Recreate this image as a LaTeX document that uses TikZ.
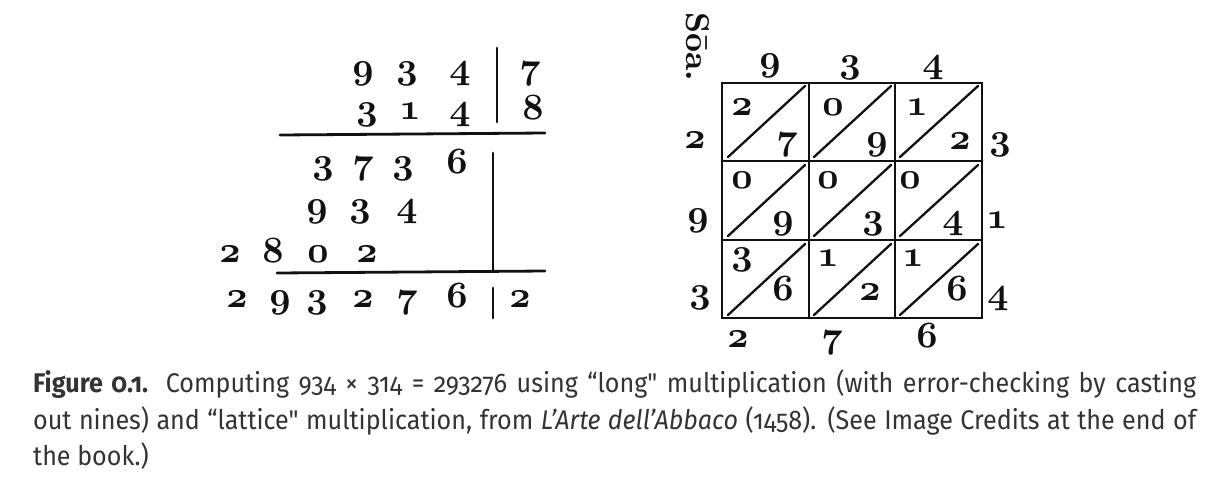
\documentclass[tikz,border=0pt]{standalone}
\usepackage{fontspec}
\usepackage{xcolor}
\usepackage{tikz}
\newfontfamily\altyaziFont[Numbers=OldStyle,FakeStretch=0.93]{Fira Sans}
\definecolor{murekkep}{HTML}{111111}
\definecolor{yaziGri}{HTML}{333333}
\newcommand{\elyazi}{\fontsize{10}{10}\usefont{OML}{cmm}{b}{it}}

\begin{document}
\begin{tikzpicture}[x=1pt,y=-1pt,
  rakam/.style={murekkep,inner sep=0pt,anchor=base,font=\elyazi,scale=3.7},
  kalem/.style={murekkep,line width=2.8pt,line cap=round},
  altyazi/.style={yaziGri,inner sep=0pt,anchor=base west,font=\altyaziFont\fontsize{27}{30}\selectfont}]
\fill[white] (0,0) rectangle (1214,493);
\useasboundingbox (0,0) rectangle (1214,493);
% uzun carpma
\node[rakam] (u1a) at (363,78) {9};
\node[rakam] (u1b) at (407,78) {3};
\node[rakam] (u1c) at (460,78) {4};
\node[rakam] (u1d) at (530,78) {7};
\node[rakam] (u2a) at (367,119) {3};
\node[rakam] (u2b) at (410,119) {1};
\node[rakam] (u2c) at (460,119) {4};
\node[rakam] (u2d) at (533,119) {8};
\draw[kalem] (497,48)--(497,122);
\draw[kalem] (280,135)--(545,133);
\node[rakam] (u3a) at (323,173) {3};
\node[rakam] (u3b) at (363,173) {7};
\node[rakam] (u3c) at (403,173) {3};
\node[rakam] (u3d) at (457,173) {6};
\draw[kalem] (493,153)--(493,272);
\node[rakam] (u4a) at (317,216) {9};
\node[rakam] (u4b) at (360,216) {3};
\node[rakam] (u4c) at (407,216) {4};
\node[rakam] (u5a) at (230,262) {2};
\node[rakam] (u5b) at (273,262) {8};
\node[rakam] (u5c) at (318,262) {0};
\node[rakam] (u5d) at (367,262) {2};
\draw[kalem] (277,273)--(545,271);
\node[rakam] (u6a) at (237,307) {2};
\node[rakam] (u6b) at (280,307) {9};
\node[rakam] (u6c) at (317,307) {3};
\node[rakam] (u6d) at (363,307) {2};
\node[rakam] (u6e) at (407,307) {7};
\node[rakam] (u6f) at (457,307) {6};
\draw[kalem] (493,288)--(493,318);
\node[rakam] (u6g) at (520,307) {2};
% kafes carpma
\node[murekkep,rotate=-90,font=\bfseries,scale=3.3,inner sep=0pt] (baslik) at (698,47) {Sōa.};
\node[rakam] (k9) at (770,70) {9};
\node[rakam] (k3) at (850,72) {3};
\node[rakam] (k4) at (933,72) {4};
\draw[kalem] (722,83) rectangle (982,318);
\draw[kalem] (809,83)--(809,318);
\draw[kalem] (895,83)--(895,318);
\draw[kalem] (722,161)--(982,161);
\draw[kalem] (722,240)--(982,240);
\draw[kalem,line width=2.3pt] (728,157)--(805,86);
\draw[kalem,line width=2.3pt] (814,157)--(891,86);
\draw[kalem,line width=2.3pt] (900,157)--(978,86);
\draw[kalem,line width=2.3pt] (728,236)--(805,165);
\draw[kalem,line width=2.3pt] (814,236)--(891,165);
\draw[kalem,line width=2.3pt] (900,236)--(978,165);
\draw[kalem,line width=2.3pt] (728,315)--(805,244);
\draw[kalem,line width=2.3pt] (814,315)--(891,244);
\draw[kalem,line width=2.3pt] (900,315)--(978,244);
\node[rakam] (h11) at (742,115) {2};
\node[rakam] (b11) at (787,149) {7};
\node[rakam] (h12) at (833,115) {0};
\node[rakam] (b12) at (877,149) {9};
\node[rakam] (h13) at (917,115) {1};
\node[rakam] (b13) at (960,149) {2};
\node[rakam] (h21) at (742,188) {0};
\node[rakam] (b21) at (783,228) {9};
\node[rakam] (h22) at (828,188) {0};
\node[rakam] (b22) at (873,228) {3};
\node[rakam] (h23) at (910,188) {0};
\node[rakam] (b23) at (953,228) {4};
\node[rakam] (h31) at (742,264) {3};
\node[rakam] (b31) at (783,300) {6};
\node[rakam] (h32) at (828,266) {1};
\node[rakam] (b32) at (870,300) {2};
\node[rakam] (h33) at (913,266) {1};
\node[rakam] (b33) at (957,300) {6};
\node[rakam] (s2) at (695,148) {2};
\node[rakam] (s9) at (698,225) {9};
\node[rakam] (s3) at (700,302) {3};
\node[rakam] (d3) at (1000,149) {3};
\node[rakam] (d1) at (997,228) {1};
\node[rakam] (d4) at (998,303) {4};
\node[rakam] (a2) at (738,347) {2};
\node[rakam] (a7) at (832,347) {7};
\node[rakam] (a6) at (927,347) {6};
% altyazi
\node[altyazi] (satir1) at (33,392) {\makebox[1163pt][s]{\textbf{Figure 0.1.} Computing 934 × 314 = 293276 using “long" multiplication (with error-checking by casting}};
\node[altyazi] (satir2) at (33,429) {\makebox[1163pt][s]{out nines) and “lattice" multiplication, from \textit{L’Arte dell’Abbaco} (1458). (See Image Credits at the end of}};
\node[altyazi] (satir3) at (33,465) {the book.)};
\end{tikzpicture}
\end{document}
